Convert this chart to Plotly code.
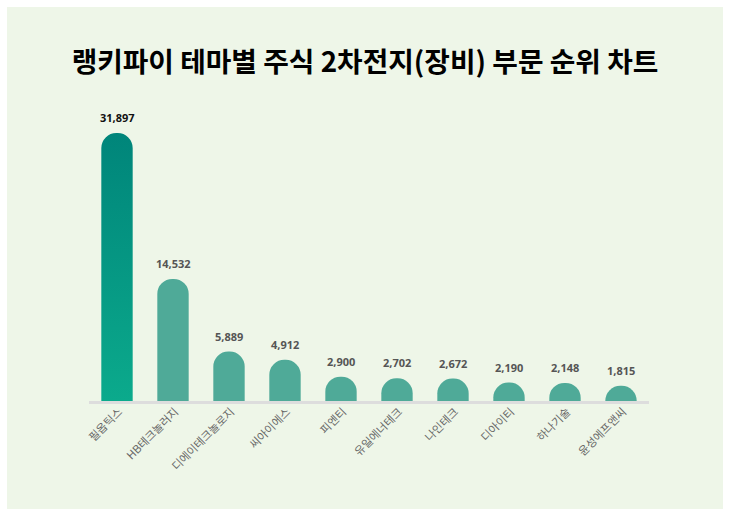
import plotly.graph_objects as go

# ------------------- Datos -------------------
titulo = '랭키파이 테마별 주식 2차전지(장비) 부문 순위 차트'
empresas = ['필옵틱스', 'HB테크놀러지', '디에이테크놀로지', '씨아이에스', '피엔티',
            '유일에너테크', '나인테크', '디아이티', '하나기술', '윤성에프앤씨']
valores = [31897, 14532, 5889, 4912, 2900, 2702, 2672, 2190, 2148, 1815]
colores = ['#0A9A86'] + ['#4FAA98'] * 9
colores_texto = ['#111111'] + ['#555555'] * 9

fuente = 'Noto Sans CJK KR'
fuente_num = 'Open Sans'

fig = go.Figure()
fig.add_trace(go.Bar(x=empresas, y=valores, marker=dict(color=colores, cornerradius=16, line=dict(width=0)),
                     hoverinfo='x+y', showlegend=False))

# etiquetas de valor
for emp, val, col in zip(empresas, valores, colores_texto):
    fig.add_annotation(x=emp, y=val, yshift=6, text=f'<b>{val:,}</b>', showarrow=False, yanchor='bottom',
                       font=dict(family=fuente_num, size=11, color=col))

# panel de fondo
fig.add_shape(type='rect', xref='paper', yref='paper', layer='below', line=dict(width=0), fillcolor='#EEF6E8',
              x0=-82/560, x1=634/560, y0=-108/302, y1=394/302)

fig.update_layout(
    width=730, height=516, margin=dict(l=89, r=81, t=99, b=115),
    paper_bgcolor='white', plot_bgcolor='rgba(0,0,0,0)', bargap=0.44,
    title=dict(text=f'<b>{titulo}</b>', x=0.5, xanchor='center', y=0.88, yanchor='middle',
               font=dict(family=fuente, size=27.8, color='#000000')),
    xaxis=dict(type='category', tickangle=-45, showline=True, linecolor='#DDDDDD', linewidth=3, ticks='',
               ticklabelstandoff=-3, ticklabelshift=2, showgrid=False,
               tickfont=dict(family=fuente, size=11.2, color='#666666')),
    yaxis=dict(range=[0, 35950], visible=False, showgrid=False),
)

# degradado de la primera barra y margen de la pagina
post = """
document.body.style.margin = '0';
var gd = document.querySelector('.plotly-graph-div');
var svg = gd.querySelector('svg.main-svg');
var ns = 'http://www.w3.org/2000/svg';
var defs = svg.querySelector('defs');
var g = document.createElementNS(ns, 'linearGradient');
g.setAttribute('id', 'barra1'); g.setAttribute('x1', '0'); g.setAttribute('y1', '0');
g.setAttribute('x2', '0'); g.setAttribute('y2', '1');
[['0', '#00857A'], ['1', '#0BAA8C']].forEach(function (p) {
    var s = document.createElementNS(ns, 'stop');
    s.setAttribute('offset', p[0]); s.setAttribute('stop-color', p[1]);
    g.appendChild(s);
});
defs.appendChild(g);
gd.querySelector('.bars .point path').style.fill = 'url(#barra1)';
"""
fig.write_html("out.html", post_script=post, config=dict(displayModeBar=False))
